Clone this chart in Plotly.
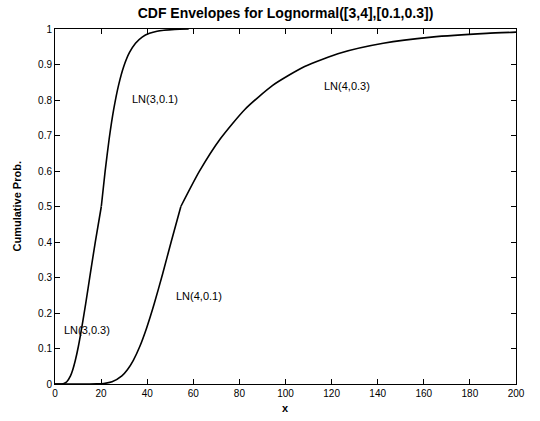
import plotly.graph_objects as go

# Left envelope (mu=3): lower part follows LN(3,0.3), upper part LN(3,0.1)
left_lo_x = [0, 2.0, 2.95, 3.88, 5.11, 6.72, 7.71, 8.83, 10.13, 11.61, 13.32, 15.27, 17.51, 20.09]
left_lo_y = [0, 0.00002, 0.00023, 0.00135, 0.0062, 0.0228, 0.0401, 0.0668, 0.1056, 0.1587, 0.2266, 0.3085, 0.4013, 0.5]
left_hi_x = [20.09, 21.74, 23.52, 25.46, 27.56, 29.82, 32.27, 34.93, 37.81, 41.0, 44.28, 51.87, 58.0]
left_hi_y = [0.5, 0.5987, 0.6915, 0.7734, 0.8413, 0.8944, 0.9332, 0.9599, 0.9772, 0.9878, 0.9938, 0.99865, 0.9998]

# Right envelope (mu=4): lower part follows LN(4,0.1), upper part LN(4,0.3)
right_lo_x = [0, 15.0, 18.05, 21.14, 24.76, 29.01, 31.40, 33.98, 36.78, 39.79, 43.07, 46.62, 50.44, 54.60]
right_lo_y = [0, 0.00001, 0.00023, 0.00135, 0.0062, 0.0228, 0.0401, 0.0668, 0.1056, 0.1587, 0.2266, 0.3085, 0.4013, 0.5]
right_hi_x = [54.60, 62.61, 71.81, 82.35, 94.44, 108.3, 124.2, 142.4, 163.3, 187.2, 200]
right_hi_y = [0.5, 0.5987, 0.6915, 0.7734, 0.8413, 0.8944, 0.9332, 0.9599, 0.9772, 0.9878, 0.9911]

labels = ["LN(3,0.1)", "LN(4,0.3)", "LN(3,0.3)", "LN(4,0.1)"]
label_x = [32.5, 115.9, 2.9, 51.5]
label_y = [0.803, 0.839, 0.152, 0.248]

x_ticks = list(range(0, 201, 20))
y_ticks = [0, 0.1, 0.2, 0.3, 0.4, 0.5, 0.6, 0.7, 0.8, 0.9, 1]
y_ticktext = ["0", "0.1", "0.2", "0.3", "0.4", "0.5", "0.6", "0.7", "0.8", "0.9", "1"]

FONT = "Arial, Liberation Sans, sans-serif"
L, R, T, B = 55, 24, 29, 37
PW, PH = 540 - L - R, 421 - T - B

fig = go.Figure()
for xs, ys in [(left_lo_x, left_lo_y), (left_hi_x, left_hi_y),
               (right_lo_x, right_lo_y), (right_hi_x, right_hi_y)]:
    fig.add_trace(go.Scatter(x=xs, y=ys, mode="lines",
                             line=dict(color="black", width=1.6, shape="spline", smoothing=0.6),
                             showlegend=False, hoverinfo="skip"))

for t, lx, ly in zip(labels, label_x, label_y):
    fig.add_annotation(x=lx, y=ly, text=t, showarrow=False, xanchor="left", yanchor="middle",
                       font=dict(family=FONT, size=11, color="black"))

# axis titles
fig.add_annotation(xref="paper", yref="paper", x=0.5, y=-(408 - (421 - B)) / PH,
                   text="<b>x</b>", showarrow=False, xanchor="center", yanchor="middle",
                   font=dict(family=FONT, size=11, color="black"))
fig.add_annotation(xref="paper", yref="paper", x=(16 - L) / PW, y=0.5,
                   text="<b>Cumulative Prob.</b>", showarrow=False, textangle=-90,
                   xanchor="center", yanchor="middle",
                   font=dict(family=FONT, size=11, color="black"))

axis_common = dict(showline=True, linecolor="black", linewidth=1, mirror="ticks",
                   ticks="inside", ticklen=5, tickcolor="black", tickwidth=1,
                   showgrid=False, zeroline=False, automargin=False,
                   tickfont=dict(family=FONT, size=10, color="black"))

fig.update_layout(
    width=540, height=421,
    margin=dict(l=L, r=R, t=T, b=B),
    plot_bgcolor="white", paper_bgcolor="white",
    title=dict(text="<b>CDF Envelopes for Lognormal([3,4],[0.1,0.3])</b>",
               x=(L + 540 - R) / 2 / 540, xanchor="center", y=1 - 13 / 421, yanchor="middle",
               font=dict(family=FONT, size=14, color="black")),
    xaxis=dict(range=[0, 200], tickvals=x_ticks, **axis_common),
    yaxis=dict(range=[0, 1], tickvals=y_ticks, ticktext=y_ticktext, **axis_common),
)

fig.write_html("out.html")
